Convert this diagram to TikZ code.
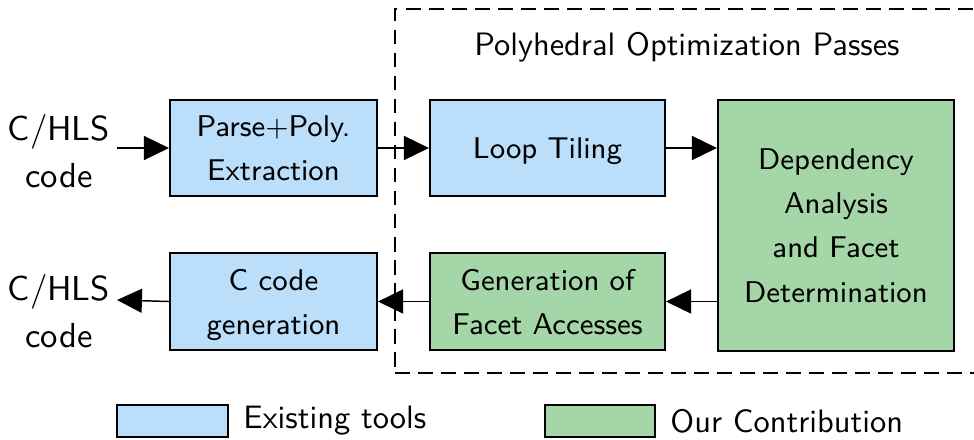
\documentclass[tikz,border=0pt]{standalone}
\usetikzlibrary{arrows.meta}
\definecolor{toolblue}{HTML}{BBDEFB}
\definecolor{ourgreen}{HTML}{A5D6A7}
\begin{document}
\begin{tikzpicture}[x=0.3086pt,y=-0.3086pt,
  box/.style={draw=black, line width=0.65pt, align=center, inner sep=0pt, text depth=0pt,
    font=\sffamily\fontsize{9.25}{13.6}\selectfont},
  bluebox/.style={box, fill=toolblue},
  greenbox/.style={box, fill=ourgreen},
  lbl/.style={align=center, font=\sffamily\fontsize{10.7}{14.5}\selectfont},
  conn/.style={line width=0.45pt, -{Triangle[length=7.7pt,width=7.4pt]}}]
\clip (0,0) rectangle (974,439);
% dashed group
\node[draw, dashed, dash pattern=on 4.6pt off 2.5pt, line width=0.6pt,
  minimum width=590*0.3086pt, minimum height=364*0.3086pt, inner sep=0pt]
  (group) at (690,191) {};
\node[font=\sffamily\fontsize{10}{12}\selectfont] (title) at (687,47) {Polyhedral Optimization Passes};
% boxes
\node[bluebox, minimum width=207*0.3086pt, minimum height=96*0.3086pt] (parse) at (273.5,148) {Parse$+$Poly.\\Extraction};
\node[bluebox, minimum width=235*0.3086pt, minimum height=96*0.3086pt] (loop) at (547.5,148) {Loop Tiling};
\node[greenbox, minimum width=236*0.3086pt, minimum height=251*0.3086pt] (dep) at (836,225.5) {Dependency\\Analysis\\and Facet\\Determination};
\node[greenbox, minimum width=235*0.3086pt, minimum height=97*0.3086pt] (gen) at (547.5,301.5) {Generation of\\Facet Accesses};
\node[bluebox, minimum width=207*0.3086pt, minimum height=97*0.3086pt] (ccode) at (273.5,301.5) {C code\\generation};
% io labels
\node[lbl] (in) at (59,151) {C/HLS\\code};
\node[lbl] (out) at (59,311) {C/HLS\\code};
\coordinate (inend) at (117,148);
\coordinate (outend) at (117,300);
% connectors
\draw[conn] (inend) -- (parse);
\draw[conn] (parse) -- (loop);
\draw[conn] (loop.east) -- (loop.east -| dep.west);
\draw[conn] (gen.east -| dep.west) -- (gen.east);
\draw[conn] (gen) -- (ccode);
\draw[conn] (ccode.west) -- (outend);
% legend
\node[bluebox, minimum width=111*0.3086pt, minimum height=32*0.3086pt] (legb) at (172.5,421) {};
\node[anchor=west, font=\sffamily\fontsize{10}{12}\selectfont] (legbt) at (232,421) {Existing tools};
\node[greenbox, minimum width=110*0.3086pt, minimum height=32*0.3086pt] (legg) at (600,421) {};
\node[anchor=west, font=\sffamily\fontsize{10}{12}\selectfont] (leggt) at (659,421) {Our Contribution};
\end{tikzpicture}
\end{document}
